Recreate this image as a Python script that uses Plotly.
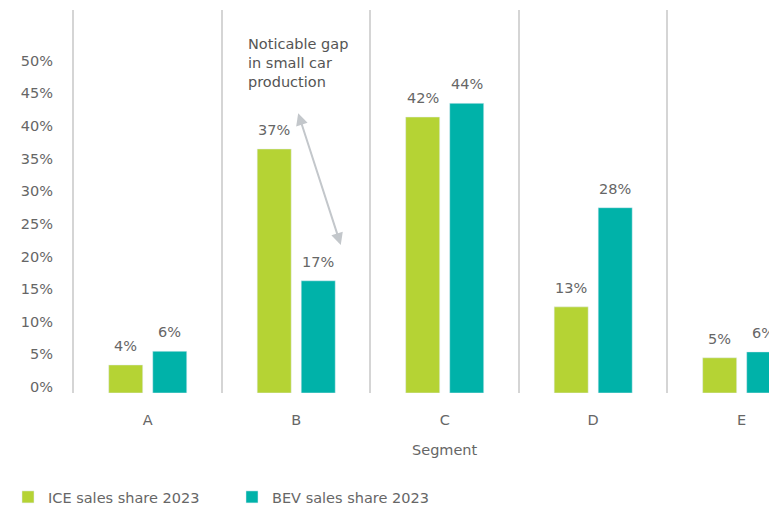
import plotly.graph_objects as go

segments = ["A", "B", "C", "D", "E"]
ice_share = [4.3, 37.4, 42.3, 13.2, 5.4]
bev_share = [6.4, 17.2, 44.4, 28.4, 6.3]
y_ticks = list(range(0, 55, 5))
y_tick_labels = [f"{v}%" for v in y_ticks]

ICE_COLOR = "#b5d334"
BEV_COLOR = "#00b2a9"
TEXT = "#666666"
FONT = "DejaVu Sans"
FS = 14.5

Y_MAX = 58.7
LABEL_SHIFT = 0.92  # tick labels sit slightly above their tick

fig = go.Figure()
fig.add_trace(go.Bar(name="ICE sales share 2023", x=segments, y=ice_share,
                     marker_color=ICE_COLOR, cliponaxis=True))
fig.add_trace(go.Bar(name="BEV sales share 2023", x=segments, y=bev_share,
                     marker_color=BEV_COLOR, cliponaxis=True))
# invisible helper trace so the label axis is drawn
fig.add_trace(go.Scatter(x=[segments[0]], y=[0], yaxis="y2", mode="markers",
                         marker=dict(opacity=0), showlegend=False, hoverinfo="skip"))

annotations = []
for vals, shift in ((ice_share, -22), (bev_share, 22)):
    for seg, v in zip(segments, vals):
        annotations.append(dict(x=seg, y=v, xref="x", yref="y", text=f"{round(v)}%",
                                showarrow=False, xshift=shift, yshift=9,
                                yanchor="bottom", font=dict(size=FS, color=TEXT, family=FONT)))

# axis title centred on the full category span
annotations.append(dict(x=(len(segments) - 1) / 2, y=-0.15, xref="x", yref="paper",
                        text="Segment", showarrow=False, yanchor="middle",
                        font=dict(size=FS, color=TEXT, family=FONT)))
# callout
annotations.append(dict(x=0.25, y=0.938, xref="paper", yref="paper", xanchor="left",
                        yanchor="top", align="left", showarrow=False,
                        text="Noticable gap<br>in small car<br>production",
                        font=dict(size=FS, color="#555555", family=FONT)))
annotations.append(dict(x=1.30, y=22.7, ax=1.01, ay=43.1, xref="x", yref="y",
                        axref="x", ayref="y", text="", showarrow=True,
                        arrowhead=2, startarrowhead=2, arrowside="end+start",
                        arrowsize=1.2, startarrowsize=1.2, arrowwidth=2, arrowcolor="#c3c7cb"))

fig.update_layout(
    width=769, height=506,
    margin=dict(l=72, r=0, t=10, b=113),
    paper_bgcolor="white", plot_bgcolor="white",
    barmode="group", bargap=0.407, bargroupgap=0.227,
    font=dict(family=FONT, size=FS, color=TEXT),
    showlegend=True,
    legend=dict(orientation="h", xref="container", yref="container", x=0.0104, y=0.0178,
                xanchor="left", yanchor="middle", entrywidth=179, entrywidthmode="pixels",
                font=dict(size=FS, color=TEXT, family=FONT)),
    annotations=annotations,
    yaxis2=dict(overlaying="y", side="left", range=[-LABEL_SHIFT, Y_MAX - LABEL_SHIFT],
                tickvals=y_ticks, ticktext=y_tick_labels, showgrid=False, zeroline=False,
                showline=False, ticks="", ticklabelstandoff=18, automargin=False,
                tickfont=dict(size=FS, color=TEXT)),
)
fig.update_xaxes(type="category", range=[-0.51, 4.184], tickson="boundaries",
                 showgrid=True, gridcolor="#d5d5d5", gridwidth=1.5, ticks="",
                 showline=False, zeroline=False, ticklabelstandoff=16, automargin=False,
                 tickfont=dict(size=FS, color=TEXT))
fig.update_layout(yaxis=dict(range=[0, Y_MAX], showticklabels=False, showgrid=False,
                             zeroline=False, showline=False, ticks="", automargin=False))

fig.write_html("out.html", config={"displayModeBar": False},
               post_script="document.body.style.margin='0';document.body.style.overflow='hidden';")
